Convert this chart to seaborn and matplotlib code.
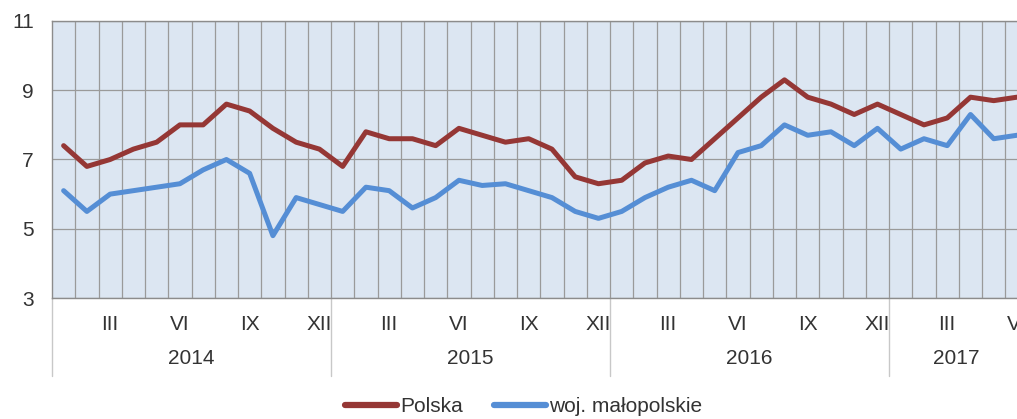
import pandas as pd
import matplotlib.pyplot as plt
import matplotlib.transforms as mtransforms
import seaborn as sns

# Data: monthly values, Jan 2014 - Jun 2017
polska = [7.4, 6.8, 7.0, 7.3, 7.5, 8.0, 8.0, 8.6, 8.4, 7.9, 7.5, 7.3,
          6.8, 7.8, 7.6, 7.6, 7.4, 7.9, 7.7, 7.5, 7.6, 7.3, 6.5, 6.3,
          6.4, 6.9, 7.1, 7.0, 7.6, 8.2, 8.8, 9.3, 8.8, 8.6, 8.3, 8.6,
          8.3, 8.0, 8.2, 8.8, 8.7, 8.8]
malopolskie = [6.1, 5.5, 6.0, 6.1, 6.2, 6.3, 6.7, 7.0, 6.6, 4.8, 5.9, 5.7,
               5.5, 6.2, 6.1, 5.6, 5.9, 6.4, 6.25, 6.3, 6.1, 5.9, 5.5, 5.3,
               5.5, 5.9, 6.2, 6.4, 6.1, 7.2, 7.4, 8.0, 7.7, 7.8, 7.4, 7.9,
               7.3, 7.6, 7.4, 8.3, 7.6, 7.7]
series_names = ['Polska', 'woj. małopolskie']
years = ['2014', '2015', '2016', '2017']
month_labels = ['III', 'VI', 'IX', 'XII']
colors = ['#953735', '#558ED5']

months = list(range(len(polska)))
df = pd.DataFrame({
    'month': months * 2,
    'value': polska + malopolskie,
    'series': [series_names[0]] * len(polska) + [series_names[1]] * len(malopolskie),
})

sns.set_style('white')
plt.rcParams['font.family'] = ['Liberation Sans', 'DejaVu Sans']
text_color = '#333333'
fs = 15

fig = plt.figure(figsize=(10.17, 4.19), dpi=100)
ax = fig.add_axes([52 / 1017, 1 - 298 / 419, 1 - 52 / 1017, 277 / 419])
ax.set_facecolor('#DCE6F2')

sns.lineplot(data=df, x='month', y='value', hue='series', palette=colors,
             linewidth=3.6, ax=ax, legend=False, zorder=3)

ax.set_xlim(-0.5, 41.0)
ax.set_ylim(3, 11)
ax.set_yticks([3, 5, 7, 9, 11])
ax.tick_params(axis='y', length=0, pad=13, labelsize=fs, labelcolor=text_color)

# month tick labels
tick_pos, tick_lab = [], []
for y in range(len(years)):
    for k, lab in enumerate(month_labels):
        p = y * 12 + 2 + 3 * k
        if p <= 41:
            tick_pos.append(p)
            tick_lab.append(lab)
ax.set_xticks(tick_pos)
ax.set_xticklabels(tick_lab)
ax.tick_params(axis='x', length=0, pad=12, labelsize=fs, labelcolor=text_color)
ax.set_xlabel('')
ax.set_ylabel('')

# grid
ax.set_xticks([i + 0.5 for i in range(41)], minor=True)
ax.tick_params(axis='x', which='minor', length=0)
ax.grid(True, axis='x', which='minor', color='#9a9a9a', linewidth=0.9, zorder=1)
ax.grid(True, axis='y', which='major', color='#9a9a9a', linewidth=0.9, zorder=1)
ax.grid(False, axis='x', which='major')
ax.set_axisbelow(True)

for side in ['top', 'left', 'bottom']:
    ax.spines[side].set_color('#8c8c8c')
    ax.spines[side].set_linewidth(1.0)
ax.spines['right'].set_visible(False)

# year labels and separators
trans = mtransforms.blended_transform_factory(ax.transData, ax.transAxes)
for y, lab in enumerate(years):
    start = y * 12 - 0.5
    ax.plot([start, start], [0, -0.28], transform=trans, clip_on=False,
            color='#c8c8c8', linewidth=1.0)
    xc = start + 6 if y < 3 else 38.4
    ax.text(xc, -0.217, lab, transform=trans, ha='center', va='center',
            fontsize=fs, color=text_color)

# legend
handles = [plt.Line2D([], [], color=c, linewidth=4.5) for c in colors]
fig.legend(handles, series_names, loc='center', bbox_to_anchor=(0.515, 0.03),
           ncol=2, frameon=False, fontsize=fs, handlelength=2.5,
           handletextpad=0.15, columnspacing=1.5, labelcolor=text_color)

fig.savefig('out.png', dpi=100)
